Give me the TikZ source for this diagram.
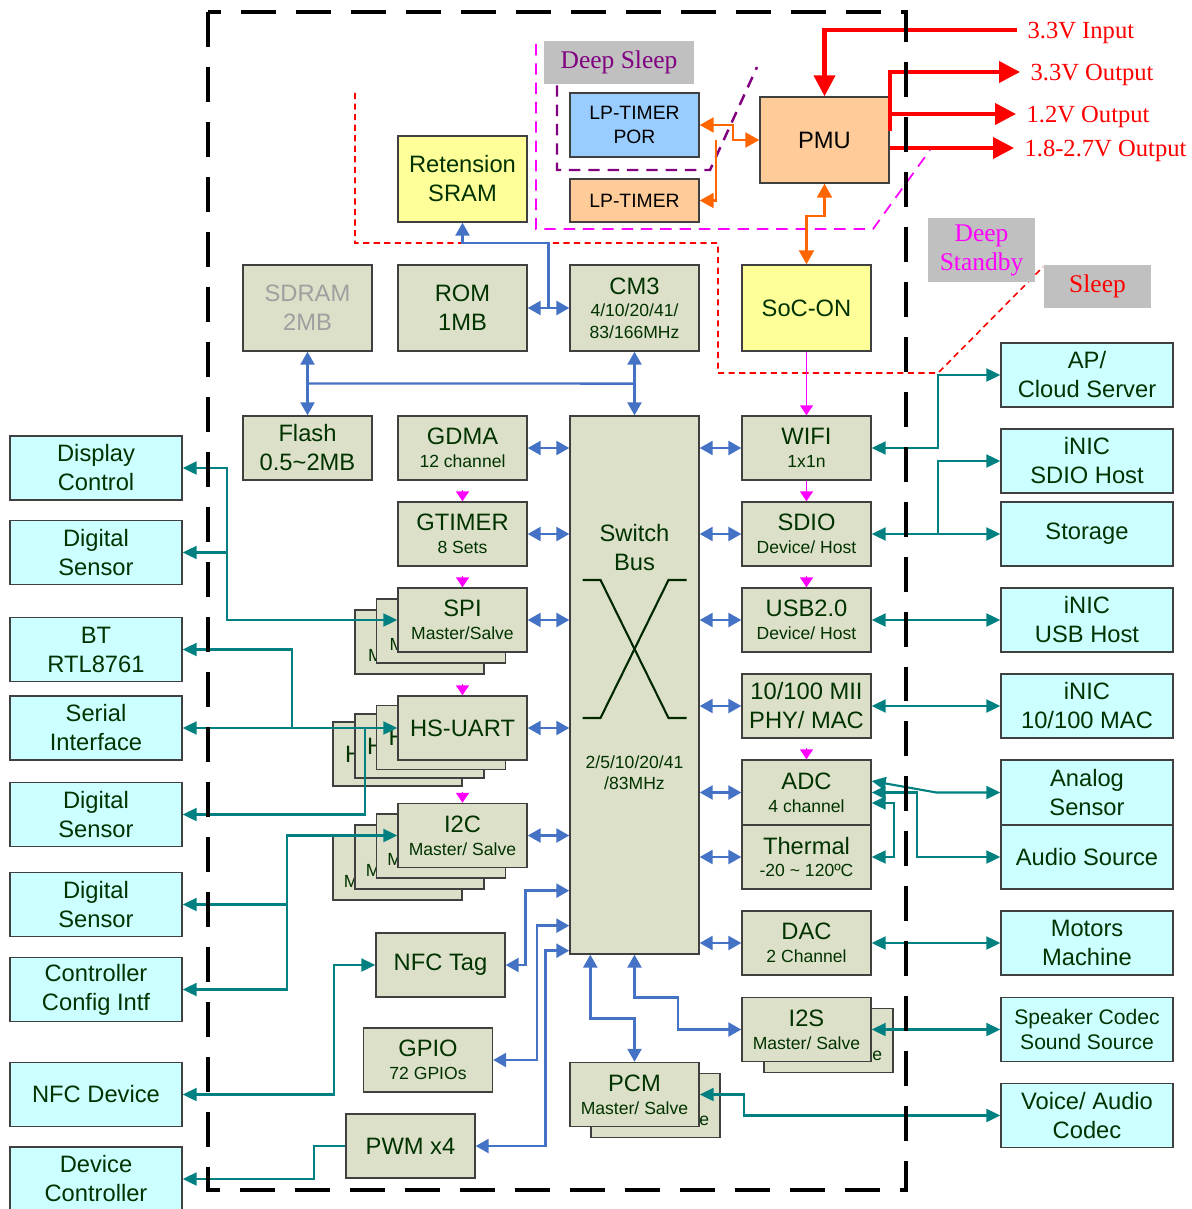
\documentclass[tikz,border=0pt]{standalone}
\usepackage{fontspec}
\setmainfont{Liberation Sans}
\newfontfamily\timesf{Liberation Serif}
\usetikzlibrary{arrows.meta}
\usetikzlibrary{calc}

\definecolor{khaki}{HTML}{DDE0C8}
\definecolor{aqua}{HTML}{CCFFFF}
\definecolor{lemon}{HTML}{FFFF99}
\definecolor{peach}{HTML}{FFCC99}
\definecolor{sky}{HTML}{99CCFF}
\definecolor{tagray}{HTML}{C0C0C0}
\definecolor{busblue}{HTML}{4472C4}
\definecolor{ioteal}{HTML}{008080}
\definecolor{txtgreen}{HTML}{003300}
\definecolor{edge}{HTML}{404040}
\definecolor{plum}{HTML}{800080}
\definecolor{pmuorange}{HTML}{FF6600}
\definecolor{wakepink}{HTML}{FF00FF}

\newcommand\bigtxt{\fontsize{13.5}{16.5}\selectfont}
\newcommand\midtxt{\fontsize{11}{13.5}\selectfont}
\newcommand\smtxt{\fontsize{10}{12}\selectfont}

\tikzset{
  blk/.style={draw=edge, line width=0.8pt, fill=khaki, text=txtgreen, align=center,
    inner sep=0pt, minimum width=2.58cm, minimum height=1.28cm, font=\bigtxt},
  tallblk/.style={blk, minimum height=1.72cm},
  ext/.style={blk, fill=aqua, minimum width=3.44cm},
  tag/.style={fill=tagray, inner sep=0pt, align=center, font=\timesf\fontsize{14.5}{16.5}\selectfont},
  volt/.style={text=red, anchor=west, inner sep=0pt, outer xsep=6pt, text depth=0pt,
    font=\timesf\fontsize{14}{16}\selectfont},
  bus/.style={busblue, line width=1.4pt, >={Triangle[length=0.26cm,width=0.28cm]}},
  tl/.style={ioteal, line width=1.2pt, >={Triangle[length=0.28cm,width=0.26cm]}},
  pwr/.style={red, line width=2.3pt, >={Triangle[length=0.42cm,width=0.42cm]}},
  org/.style={pmuorange, line width=1.3pt, >={Triangle[length=0.28cm,width=0.3cm]}},
  mg/.style={wakepink, line width=1pt, >={Triangle[length=0.2cm,width=0.26cm]}},
  xline/.style={txtgreen!80!black, line width=1.2pt},
}

\begin{document}
\begin{tikzpicture}[x=0.02cm, y=-0.02cm]
\useasboundingbox (0,0) rectangle (1192,1209);

% power domain borders
\draw[red, line width=0.9pt, dash pattern=on 3.5pt off 2.5pt]
  (355,93) -- (355,243) -- (718,243) -- (718,373) -- (938,373) -- (1043,267);
\draw[wakepink, line width=1pt, dash pattern=on 6.5pt off 4.5pt]
  (536,44) -- (536,229) -- (873,229) -- (930,150);
\draw[plum, line width=1.4pt, dash pattern=on 6.5pt off 4.5pt]
  (557,66) -- (557,170) -- (710,170) -- (757,67);

% always-on part
\node[tag, text=plum, minimum width=3cm, minimum height=0.86cm] (dslp) at (619,62.5) {Deep Sleep};
\node[tallblk, fill=lemon] (sram) at (462.5,179) {Retension\\SRAM};
\node[blk, fill=sky, text=black, font=\midtxt] (lpp) at (634.5,125) {LP-TIMER\\POR};
\node[blk, fill=peach, text=black, font=\midtxt, minimum height=0.86cm] (lpt) at (634.5,200.5) {LP-TIMER};
\node[tallblk, fill=peach, text=black] (pmu) at (824.5,140) {PMU};
\node[tag, text=wakepink, minimum width=2.14cm, minimum height=1.28cm] (dstb) at (981.5,250) {Deep\\Standby};
\node[tag, text=red, minimum width=2.14cm, minimum height=0.86cm] (slp) at (1097.5,286.5) {Sleep};

\node[volt] (vin) at (1017,30) {3.3V Input};
\node[volt] (vo33) at (1020,72) {3.3V Output};
\node[volt] (vo12) at (1016,114) {1.2V Output};
\node[volt] (vo18) at (1014,148) {1.8-2.7V Output};

% core blocks
\node[tallblk, text=gray!75] (sdram) at (307.5,308) {SDRAM\\2MB};
\node[tallblk] (rom) at (462.5,308) {ROM\\1MB};
\node[tallblk] (cm3) at (634.5,308) {CM3\\[-4pt]\smtxt 4/10/20/41/\\[-4pt]\smtxt 83/166MHz};
\node[tallblk, fill=lemon] (soc) at (806.5,308) {SoC-ON};

\node[blk] (flash) at (307.5,448) {Flash\\0.5\textasciitilde 2MB};
\node[blk] (gdma) at (462.5,448) {GDMA\\[-3.5pt]\smtxt 12 channel};
\node[blk] (gtim) at (462.5,534) {GTIMER\\[-3.5pt]\smtxt 8 Sets};
\node[blk, minimum height=10.76cm] (sw) at (634.5,685) {};
\node[font=\bigtxt, text=txtgreen, align=center, inner sep=0pt] (swname) at (634.5,548) {Switch\\Bus};
\node[font=\smtxt, text=txtgreen, align=center, inner sep=0pt] (swclk) at (634.5,773) {2/5/10/20/41\\/83MHz};
\draw[xline] ($(sw.center)+(-52,-105)$) -- ++(18,0) -- ++(68,138) -- ++(18,0);
\draw[xline] ($(sw.center)+(-52,33)$) -- ++(18,0) -- ++(68,-138) -- ++(18,0);

\node[blk] (spic) at (419.5,642) {SPI\\[-3.5pt]\smtxt Master/Salve};
\node[blk] (spib) at (441,631) {SPI\\[-3.5pt]\smtxt Master/Salve};
\node[blk] (spi) at (462.5,620) {SPI\\[-3.5pt]\smtxt Master/Salve};

\node[blk] (hsud) at (397.5,754) {HS-UART};
\node[blk] (hsuc) at (419.5,746) {HS-UART};
\node[blk] (hsub) at (441,737.5) {HS-UART};
\node[blk] (hsu) at (462.5,728) {HS-UART};

\node[blk] (i2cd) at (397.5,868) {I2C\\[-3.5pt]\smtxt Master/ Salve};
\node[blk] (i2cc) at (419.5,857) {I2C\\[-3.5pt]\smtxt Master/ Salve};
\node[blk] (i2cb) at (441,846) {I2C\\[-3.5pt]\smtxt Master/ Salve};
\node[blk] (i2c) at (462.5,835.5) {I2C\\[-3.5pt]\smtxt Master/ Salve};

\node[blk] (nfct) at (440.5,965) {NFC Tag};
\node[blk] (gpio) at (428,1060) {GPIO\\[-3.5pt]\smtxt 72 GPIOs};
\node[blk] (pwm) at (410.5,1146) {PWM x4};

\node[blk] (wifi) at (806.5,448) {WIFI\\[-3.5pt]\smtxt 1x1n};
\node[blk] (sdio) at (806.5,534) {SDIO\\[-3.5pt]\smtxt Device/ Host};
\node[blk] (usb) at (806.5,620) {USB2.0\\[-3.5pt]\smtxt Device/ Host};
\node[blk] (mii) at (806.5,706) {10/100 MII\\PHY/ MAC};
\node[blk, minimum height=1.3cm] (adc) at (806.5,792.5) {ADC\\[-3.5pt]\smtxt 4 channel};
\node[blk] (therm) at (806.5,857) {Thermal\\[-3.5pt]\smtxt -20 \textasciitilde{} 120ºC};
\node[blk] (dac) at (806.5,943) {DAC\\[-3.5pt]\smtxt 2 Channel};
\node[blk] (i2sb) at (828.5,1040.5) {I2S\\[-3.5pt]\smtxt Master/ Salve};
\node[blk] (i2s) at (806.5,1029.5) {I2S\\[-3.5pt]\smtxt Master/ Salve};
\node[blk] (pcmb) at (655.5,1105.5) {PCM\\[-3.5pt]\smtxt Master/ Salve};
\node[blk] (pcm) at (634.5,1094.5) {PCM\\[-3.5pt]\smtxt Master/ Salve};

% outside devices
\node[ext] (ap) at (1087,375) {AP/\\Cloud Server};
\node[ext] (isdio) at (1087,461) {iNIC\\SDIO Host};
\node[ext] (stor) at (1087,534) {Storage};
\node[ext] (iusb) at (1087,620) {iNIC\\USB Host};
\node[ext] (imac) at (1087,706) {iNIC\\10/100 MAC};
\node[ext, minimum height=1.3cm] (ana) at (1087,792.5) {Analog\\Sensor};
\node[ext] (aud) at (1087,857) {Audio Source};
\node[ext] (mot) at (1087,943) {Motors\\Machine};
\node[ext, font=\fontsize{12}{14}\selectfont] (spk) at (1087,1029.5) {Speaker Codec\\Sound Source};
\node[ext] (voice) at (1087,1115.5) {Voice/ Audio\\Codec};

\node[ext] (disp) at (96,468) {Display\\Control};
\node[ext] (dsa) at (96,552.5) {Digital\\Sensor};
\node[ext] (bt) at (96,649.5) {BT\\RTL8761};
\node[ext] (ser) at (96,728) {Serial\\Interface};
\node[ext] (dsb) at (96,814.5) {Digital\\Sensor};
\node[ext] (dsc) at (96,904.5) {Digital\\Sensor};
\node[ext] (ccfg) at (96,989.5) {Controller\\Config Intf};
\node[ext] (nfcd) at (96,1094.5) {NFC Device};
\node[ext] (devc) at (96,1179) {Device\\Controller};

% power
\draw[pwr,->] (vin.west) -| (pmu.north);
\draw[pwr,->] ($(pmu.north east)+(0,35)$) |- (vo33.west);
\draw[pwr,->] (pmu.east |- vo12.west) -- (vo12.west);
\draw[pwr,->] (pmu.east |- vo18.west) -- (vo18.west);
\draw[org,<->] (lpp.east) -- ++(33,0) |- (pmu.west);
\draw[org,->] ($(pmu.west)+(-43,0)$) |- (lpt.east);
\draw[org,<->] (pmu.south) -- ++(0,32) -| (soc.north);

% wake-up chain
\draw[mg,->] (soc.south) -- (wifi.north);
\draw[mg,->] (wifi.south) -- (sdio.north);
\draw[mg,->] ($(usb.north)+(0,-11)$) -- (usb.north);
\draw[mg,->] ($(adc.north)+(0,-11)$) -- (adc.north);
\draw[mg,->] ($(gtim.north)+(0,-11)$) -- (gtim.north);
\draw[mg,->] ($(spi.north)+(0,-11)$) -- (spi.north);
\draw[mg,->] ($(hsu.north)+(0,-11)$) -- (hsu.north);
\draw[mg,->] ($(i2c.north)+(0,-11)$) -- (i2c.north);

% internal bus
\draw[bus,<->] (sdram.south) -- (flash.north);
\draw[bus,<->] (cm3.south) -- (sw.north);
\draw[bus] ($(sdram.south)!0.5!(flash.north)$) -- ($(cm3.south)!0.5!(sw.north)$);
\draw[bus,<->] (rom.east) -- (cm3.west);
\draw[bus,->] ($(rom.east)+(21,0)$) -- ++(0,-65) -| (sram.south);
\draw[bus,<->] (gdma.east) -- (gdma.east -| sw.west);
\draw[bus,<->] (gtim.east) -- (gtim.east -| sw.west);
\draw[bus,<->] (spi.east) -- (spi.east -| sw.west);
\draw[bus,<->] (hsu.east) -- (hsu.east -| sw.west);
\draw[bus,<->] (i2c.east) -- (i2c.east -| sw.west);
\draw[bus,<->] (wifi.west -| sw.east) -- (wifi.west);
\draw[bus,<->] (sdio.west -| sw.east) -- (sdio.west);
\draw[bus,<->] (usb.west -| sw.east) -- (usb.west);
\draw[bus,<->] (mii.west -| sw.east) -- (mii.west);
\draw[bus,<->] (adc.west -| sw.east) -- (adc.west);
\draw[bus,<->] (therm.west -| sw.east) -- (therm.west);
\draw[bus,<->] (dac.west -| sw.east) -- (dac.west);
\draw[bus,<->] (nfct.east) -- ++(20,0) |- ($(sw.south west)+(0,-64)$);
\draw[bus,<->] (gpio.east) -- ++(44,0) |- ($(sw.south west)+(0,-29)$);
\draw[bus,<->] (pwm.east) -- ++(70,0) |- ($(sw.south west)+(0,-4)$);
\draw[bus,<->] ($(sw.south west)+(21,0)$) -- ++(0,64) -| (pcm.north);
\draw[bus,<->] (sw.south) -- ++(0,43) -- ++(43.5,0) |- (i2s.west);

% pins to the outside
\draw[tl,<->] (wifi.east) -- ++(66,0) |- (ap.west);
\draw[tl,<->] (sdio.east) -- (stor.west);
\draw[tl,->] ($(sdio.east)+(66,0)$) |- (isdio.west);
\draw[tl,<->] (usb.east) -- (iusb.west);
\draw[tl,<->] (mii.east) -- (imac.west);
\draw[tl,<->] ($(adc.east)+(0,-11.5)$) -- ($(ana.west)+(-64,0)$) -- (ana.west);
\draw[tl,<->] (adc.east) -- ++(45,0) |- (aud.west);
\draw[tl,<->] ($(adc.east)+(0,10.5)$) -- ++(22,0) |- (therm.east);
\draw[tl,<->] (dac.east) -- (mot.west);
\draw[tl,<->] (i2s.east) -- (spk.west);
\draw[tl,<->] (pcm.east) -- ++(44,0) |- (voice.west);

\draw[tl,<->] (disp.east) -- ++(44,0) |- (spi.west);
\draw[tl,<-] (dsa.east) -- ++(44,0);
\draw[tl,<->] (ser.east) -- (hsu.west);
\draw[tl,<-] (bt.east) -- ++(109,0) -- ++(0,78.5);
\draw[tl,->] ($(hsu.west)+(-32,0)$) |- (dsb.east);
\draw[tl,<->] (i2c.west) -- ++(-110,0) |- (dsc.east);
\draw[tl,->] ($(i2c.west)+(-110,0)$) |- (ccfg.east);
\draw[tl,<->] (nfcd.east) -- ++(151,0) |- (nfct.west);
\draw[tl,->] (pwm.west) -- ++(-31,0) |- (devc.east);

% chip border
\draw[black, line width=2.3pt, dash pattern=on 0.7cm off 0.4cm] (208,12) rectangle (906,1190);
\end{tikzpicture}
\end{document}
